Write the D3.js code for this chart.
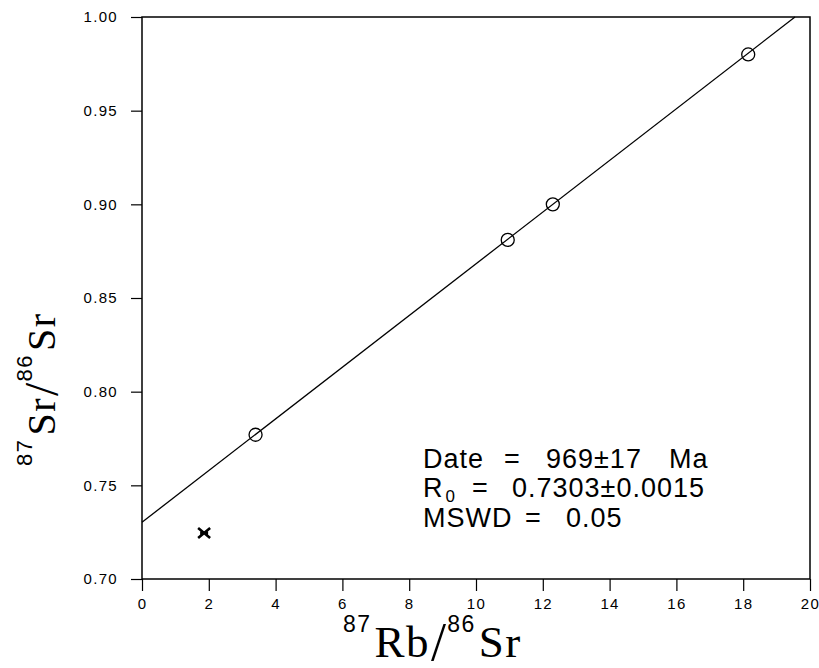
<!DOCTYPE html>
<html>
<head>
<meta charset="utf-8">
<script src="https://cdn.jsdelivr.net/npm/d3@7"></script>
<style>
  html, body { margin: 0; padding: 0; background: #fff; }
  svg { display: block; }
  text { white-space: pre; }
</style>
</head>
<body>
<svg id="chart" width="819" height="668"></svg>
<script>
// ---- data ----
const sampleRb = [3.4, 10.95, 12.3, 18.15];           // 87Rb/86Sr, isochron points
const sampleSr = [0.777, 0.881, 0.900, 0.980];        // 87Sr/86Sr
const excludedRb = [1.86];                            // excluded sample (cross)
const excludedSr = [0.7245];
const isochronRb = [0, 19.55];                        // fitted line end points
const isochronSr = [0.7303, 1.00];
const xTickValues = [0, 2, 4, 6, 8, 10, 12, 14, 16, 18, 20];
const yTickValues = [0.70, 0.75, 0.80, 0.85, 0.90, 0.95, 1.00];
const statLabels = ["Date", "R", "MSWD"];
const statValues = ["969±17", "0.7303±0.0015", "0.05"];
const statUnit = "Ma";

// ---- layout ----
const svg = d3.select("#chart");
const L = 142, R = 810, T = 17, B = 579;
const x = d3.scaleLinear().domain([0, 20]).range([L, R]);
const y = d3.scaleLinear().domain([0.70, 1.00]).range([B, T]);
const sans = "'Liberation Sans', Arial, Helvetica, sans-serif";
const serif = "'Liberation Serif', 'Times New Roman', serif";

// axes
const xAxis = d3.axisBottom(x).tickValues(xTickValues).tickSize(12).tickPadding(7)
  .tickFormat(d3.format("d"));
const yAxis = d3.axisLeft(y).tickValues(yTickValues).tickSize(11).tickPadding(13)
  .tickFormat(d3.format(".2f"));

const gx = svg.append("g").attr("transform", `translate(0,${B})`).call(xAxis);
const gy = svg.append("g").attr("transform", `translate(${L},0)`).call(yAxis);
[gx, gy].forEach(g => {
  g.select(".domain").remove();
  g.selectAll(".tick line").attr("stroke", "#000").attr("stroke-width", 1.2);
  g.selectAll(".tick text").attr("fill", "#000")
    .style("font-family", sans).style("font-size", "15px").style("letter-spacing", "1.3px");
});

// frame
svg.append("rect")
  .attr("x", x(0)).attr("y", y(1.00))
  .attr("width", x(20) - x(0)).attr("height", y(0.70) - y(1.00))
  .attr("fill", "none").attr("stroke", "#000").attr("stroke-width", 1.5);

// isochron line
const line = d3.line().x(d => x(d[0])).y(d => y(d[1]));
svg.append("path")
  .datum(isochronRb.map((v, i) => [v, isochronSr[i]]))
  .attr("d", line).attr("fill", "none").attr("stroke", "#000").attr("stroke-width", 1.3);

// samples
svg.append("g").selectAll("circle")
  .data(sampleRb.map((v, i) => [v, sampleSr[i]]))
  .join("circle")
  .attr("cx", d => x(d[0])).attr("cy", d => y(d[1])).attr("r", 6.5)
  .attr("fill", "none").attr("stroke", "#000").attr("stroke-width", 1.3);

// excluded sample
const cross = svg.append("g").selectAll("g")
  .data(excludedRb.map((v, i) => [v, excludedSr[i]]))
  .join("g")
  .attr("transform", d => `translate(${x(d[0])},${y(d[1])})`);
cross.append("path")
  .attr("d", "M-6,-5L6,5M-6,5L6,-5M-4,0L4,0")
  .attr("stroke", "#000").attr("stroke-width", 2.6).attr("fill", "none");

// statistics text
const stats = svg.append("g").style("font-family", sans).style("font-size", "27px")
  .style("letter-spacing", "1px");
const s0 = stats.append("text").attr("y", 468);
s0.append("tspan").attr("x", 423).text(statLabels[0]);
s0.append("tspan").attr("x", 504).text("=");
s0.append("tspan").attr("x", 546).text(statValues[0]);
s0.append("tspan").attr("x", 669).text(statUnit);
const s1 = stats.append("text").attr("y", 497);
s1.append("tspan").attr("x", 423).text(statLabels[1]);
s1.append("tspan").attr("dy", 5).attr("dx", 2).style("font-size", "17px").text("0");
s1.append("tspan").attr("x", 472).attr("dy", -5).text("=");
s1.append("tspan").attr("x", 512).text(statValues[1]);
const s2 = stats.append("text").attr("y", 527);
s2.append("tspan").attr("x", 423).text(statLabels[2]);
s2.append("tspan").attr("x", 525).text("=");
s2.append("tspan").attr("x", 566).text(statValues[2]);

// axis titles
function ratioTitle(g, big, sup, sizeBig, sizeSup, supShift) {
  const t = g.append("text").attr("text-anchor", "start").attr("fill", "#000");
  t.append("tspan").style("font-family", sans).style("font-size", sizeSup + "px")
    .style("letter-spacing", "1.5px").attr("dy", -supShift).text(sup[0]);
  t.append("tspan").style("font-family", serif).style("font-size", sizeBig + "px")
    .style("letter-spacing", "1.5px").attr("dx", 3).attr("dy", supShift).text(big[0]);
  t.append("tspan").style("font-family", serif).style("font-size", (sizeBig * 1.2) + "px")
    .attr("dx", 1).attr("dy", 3).text("/");
  t.append("tspan").style("font-family", sans).style("font-size", sizeSup + "px")
    .style("letter-spacing", "1.5px").attr("dx", 1).attr("dy", -supShift - 3).text(sup[1]);
  t.append("tspan").style("font-family", serif).style("font-size", sizeBig + "px")
    .style("letter-spacing", "1.5px").attr("dx", 3).attr("dy", supShift).text(big[1]);
  return t;
}
const xt = svg.append("g").attr("transform", "translate(343,657)");
ratioTitle(xt, ["Rb", "Sr"], ["87", "86"], 45, 23, 25);
const yt = svg.append("g").attr("transform", "translate(55,466) rotate(-90)");
ratioTitle(yt, ["Sr", "Sr"], ["87", "86"], 40, 22, 23);
</script>
</body>
</html>
